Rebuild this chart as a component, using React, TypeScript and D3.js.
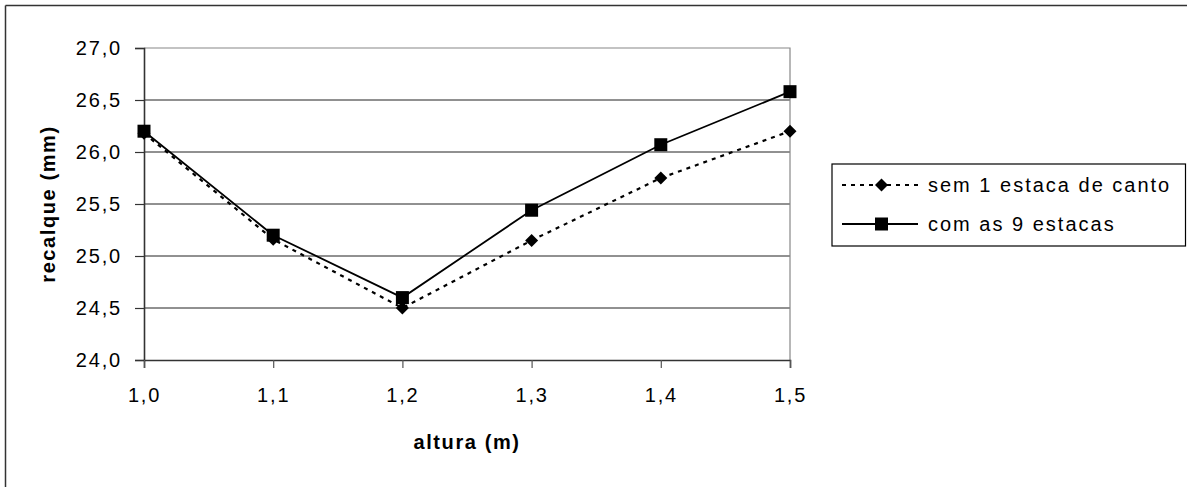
import { useEffect, useRef } from "react";
import * as d3 from "d3";

const alturas = [1.0, 1.1, 1.2, 1.3, 1.4, 1.5];
const sem1Estaca = [26.18, 25.16, 24.5, 25.15, 25.75, 26.2];
const com9Estacas = [26.2, 25.2, 24.6, 25.44, 26.07, 26.58];
const yTicks = [24.0, 24.5, 25.0, 25.5, 26.0, 26.5, 27.0];
const seriesNames = ["sem 1 estaca de canto", "com as 9 estacas"];

const FONT = "'Liberation Sans', Arial, sans-serif";

const drawChart = (ref: SVGSVGElement) => {
  const svg = d3.select(ref);
  svg.selectAll("*").remove();

  const m = { l: 144, r: 790, t: 48, b: 360 };
  const fmt = d3.formatLocale({ decimal: ",", thousands: ".", grouping: [3], currency: ["", ""] }).format(".1f");

  const x = d3.scaleLinear().domain([1.0, 1.5]).range([m.l, m.r]);
  const y = d3.scaleLinear().domain([24, 27]).range([m.b, m.t]);

  // outer chart border (only top and left are visible)
  svg.append("line").attr("x1", 5.5).attr("x2", 1187).attr("y1", 5.5).attr("y2", 5.5)
    .attr("stroke", "#333").attr("stroke-width", 1.5);
  svg.append("line").attr("x1", 5.5).attr("x2", 5.5).attr("y1", 5.5).attr("y2", 487)
    .attr("stroke", "#333").attr("stroke-width", 1.5);

  // gridlines
  svg.append("g")
    .selectAll("line")
    .data(yTicks.slice(1, -1))
    .join("line")
    .attr("x1", m.l).attr("x2", m.r)
    .attr("y1", (d) => y(d)).attr("y2", (d) => y(d))
    .attr("stroke", "#222").attr("stroke-width", 1);

  // plot area border (top + right)
  svg.append("path")
    .attr("d", `M${m.l},${m.t}H${m.r}V${m.b}`)
    .attr("fill", "none").attr("stroke", "#888").attr("stroke-width", 1.2);

  // y axis
  const yAxis = svg.append("g").attr("transform", `translate(${m.l},0)`)
    .call(d3.axisLeft(y).tickValues(yTicks).tickSize(9).tickPadding(13).tickFormat((d) => fmt(d as number)));
  yAxis.select(".domain").attr("stroke", "#333").attr("stroke-width", 1.6);
  yAxis.selectAll(".tick line").attr("stroke", "#333").attr("stroke-width", 1.2);
  yAxis.selectAll("text").attr("font-family", FONT).attr("font-size", 20)
    .attr("letter-spacing", 1.8).attr("fill", "#000");

  // x axis
  const xAxis = svg.append("g").attr("transform", `translate(0,${m.b})`)
    .call(d3.axisBottom(x).tickValues(alturas).tickSize(8).tickPadding(20).tickFormat((d) => fmt(d as number)));
  xAxis.select(".domain").attr("stroke", "#333").attr("stroke-width", 1.6);
  xAxis.selectAll(".tick line").attr("stroke", "#555").attr("stroke-width", 1.2);
  xAxis.selectAll("text").attr("font-family", FONT).attr("font-size", 20)
    .attr("letter-spacing", 1.8).attr("fill", "#000");

  // axis titles
  svg.append("text")
    .attr("x", (m.l + m.r) / 2).attr("y", 449)
    .attr("text-anchor", "middle")
    .attr("font-family", FONT).attr("font-size", 20).attr("font-weight", "bold")
    .attr("letter-spacing", 1.6)
    .text("altura (m)");
  svg.append("text")
    .attr("transform", `translate(55,${(m.t + m.b) / 2}) rotate(-90)`)
    .attr("text-anchor", "middle")
    .attr("font-family", FONT).attr("font-size", 20).attr("font-weight", "bold")
    .attr("letter-spacing", 1.6)
    .text("recalque (mm)");

  const line = d3.line<number>().x((d, i) => x(alturas[i])).y((d) => y(d));
  const diamond = "M0,-6.5L6.5,0L0,6.5L-6.5,0Z";
  const square = "M-6.5,-6.5H6.5V6.5H-6.5Z";

  // series: sem 1 estaca (dotted, diamonds)
  svg.append("path").datum(sem1Estaca).attr("d", line)
    .attr("fill", "none").attr("stroke", "#000").attr("stroke-width", 2.2)
    .attr("stroke-dasharray", "4,5");
  svg.append("g").selectAll("path").data(sem1Estaca).join("path")
    .attr("transform", (d, i) => `translate(${x(alturas[i])},${y(d)})`)
    .attr("d", diamond).attr("fill", "#000");

  // series: com as 9 estacas (solid, squares)
  svg.append("path").datum(com9Estacas).attr("d", line)
    .attr("fill", "none").attr("stroke", "#000").attr("stroke-width", 1.8);
  svg.append("g").selectAll("path").data(com9Estacas).join("path")
    .attr("transform", (d, i) => `translate(${x(alturas[i])},${y(d)})`)
    .attr("d", square).attr("fill", "#000");

  // legend
  const lg = svg.append("g");
  lg.append("rect").attr("x", 832).attr("y", 164).attr("width", 353.5).attr("height", 82)
    .attr("fill", "#fff").attr("stroke", "#000").attr("stroke-width", 1.2);
  const rows = [
    { name: seriesNames[0], y: 185, dash: "4,5", marker: diamond, w: 2.2 },
    { name: seriesNames[1], y: 224, dash: null, marker: square, w: 1.8 },
  ];
  rows.forEach((r) => {
    lg.append("line").attr("x1", 842).attr("x2", 918).attr("y1", r.y).attr("y2", r.y)
      .attr("stroke", "#000").attr("stroke-width", r.w)
      .attr("stroke-dasharray", r.dash);
    lg.append("path").attr("transform", `translate(881.5,${r.y})`).attr("d", r.marker).attr("fill", "#000");
    lg.append("text").attr("x", 928).attr("y", r.y + 7)
      .attr("font-family", FONT).attr("font-size", 20).attr("letter-spacing", 2)
      .text(r.name);
  });
};

export default function App() {
  const ref = useRef<SVGSVGElement>(null);

  useEffect(() => {
    if (ref.current) drawChart(ref.current);
  }, []);

  return (
    <svg
      ref={ref}
      width={1187}
      height={487}
      style={{ position: "absolute", left: 0, top: 0, background: "#fff" }}
    />
  );
}
